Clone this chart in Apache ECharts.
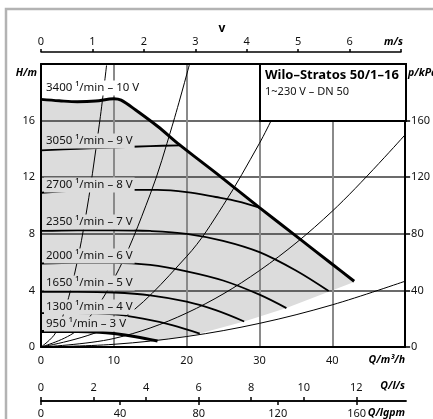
<!DOCTYPE html>
<html>
<head>
<meta charset="utf-8">
<script src="https://cdn.jsdelivr.net/npm/echarts@6/dist/echarts.min.js"></script>
<style>
  html, body { margin: 0; padding: 0; background: #fff; }
  #chart { width: 433px; height: 419px; }
</style>
</head>
<body>
<div id="chart"></div>
<script>
// Pump curves: head H [m] over flow Q [m³/h], one list of [Q, H] points per speed step
const curve10V = [[0,17.5],[2.5,17.4],[5,17.33],[7.5,17.38],[10,17.55],[11,17.45],[13,16.75],[16,15.6],[19,14.3],[22,13.1],[25,11.9],[30,9.85],[35,7.85],[40,5.85],[43,4.65]];
const curve9V  = [[0,13.9],[5,14.0],[10,14.1],[15,14.2],[19.2,14.25]];
const curve8V  = [[0,10.9],[5,11.05],[10,11.1],[16,11.1],[20,10.95],[24,10.6],[27,10.3],[30,9.85]];
const curve7V  = [[0,8.2],[5,8.25],[10,8.25],[15,8.2],[20,8.0],[25,7.5],[30,6.7],[35,5.4],[39.5,3.95]];
const curve6V  = [[0,5.9],[5,5.95],[10,5.95],[15,5.8],[20,5.35],[25,4.7],[30,3.7],[33.7,2.75]];
const curve5V  = [[0,3.9],[5,3.9],[10,3.85],[15,3.65],[20,3.2],[24,2.6],[27.9,1.8]];
const curve4V  = [[0,2.4],[5,2.4],[10,2.3],[14,2.0],[18,1.55],[21.8,0.95]];
const curve3V  = [[0,1.1],[5,1.1],[8,1.05],[10,0.95],[13,0.72],[16,0.42]];

// Lower edge of the operating range, from the end of the 3 V curve to the end of the 10 V curve
const rangeEdge = [[16,0.42],[21.8,0.95],[27.9,1.8],[33.7,2.75],[39.5,3.9],[43,4.6]];

// System characteristics through the origin
const system1 = [[0,0],[2,1.0],[4,3.9],[6,8.8],[8,15.7],[9,19.9]];
const system2 = [[0,0],[5,1.2],[10,4.8],[15,10.8],[18,15.6],[20.4,20]];
const system3 = [[0,0],[10,1.6],[20,6.4],[25,10],[30,14.4],[31.6,16]];
const system4 = [[0,0],[10,0.6],[20,2.4],[30,5.4],[40,9.6],[50,15]];
const system5 = [[0,0],[10,0.19],[20,0.74],[30,1.67],[40,2.98],[50,4.65]];

const speedLabels = ['3400 ¹/min – 10 V','3050 ¹/min – 9 V','2700 ¹/min – 8 V','2350 ¹/min – 7 V','2000 ¹/min – 6 V','1650 ¹/min – 5 V','1300 ¹/min – 4 V','950 ¹/min – 3 V'];
const headTicks = [0,4,8,12,16];
const pressureTicks = [0,40,80,120,160];
const velocityTicks = [0,1,2,3,4,5,6,7];
const velocityLabels = [0,1,2,3,4,5,6];
const litreTicks = [0,2,4,6,8,10,12];
const gallonTicks = [0,40,80,120,160];

const FONT = 'Noto Sans';
const GRAY_FILL = '#dcdcdc';

// Closed outline of the shaded operating range
const rangePolygon = curve10V
  .concat(rangeEdge.slice().reverse())
  .concat(curve3V.slice().reverse());

function line(data, width) {
  return {
    type: 'line', xAxisIndex: 0, yAxisIndex: 0, data: data,
    showSymbol: false, smooth: 0.35, z: 3, silent: true,
    lineStyle: { color: '#000', width: width }
  };
}

const chart = echarts.init(document.getElementById('chart'), null, { renderer: 'canvas' });

const hiddenY = (i) => ({ gridIndex: i, type: 'value', show: false, min: 0, max: 1 });

const labelGraphics = [];
const labelPos = [[44,88,'#fff'],[44,141,GRAY_FILL],[44,185,GRAY_FILL],[44,222,GRAY_FILL],[44,256,GRAY_FILL],[44,283,GRAY_FILL],[44,307,GRAY_FILL],[44,324,GRAY_FILL]];
speedLabels.forEach((t, i) => {
  labelGraphics.push({
    type: 'text', x: labelPos[i][0], y: labelPos[i][1], z: 60,
    style: {
      text: t, fill: '#111', font: '11.5px "' + FONT + '"',
      verticalAlign: 'middle', align: 'left',
      backgroundColor: labelPos[i][2], padding: [2, 2, 1, 2]
    }
  });
});

function axisName(text, x, y, align) {
  return {
    type: 'text', x: x, y: y, z: 60,
    style: { text: text, fill: '#000', font: 'italic bold 10.5px "' + FONT + '"', align: align || 'left', verticalAlign: 'middle' }
  };
}

const scaleLine = { onZero: false, lineStyle: { color: '#000', width: 1.5 } };

chart.setOption({
  animation: false,
  backgroundColor: '#fff',
  textStyle: { fontFamily: FONT },
  grid: [
    { left: 41, top: 64, width: 365, height: 283 },   // main diagram
    { left: 41, top: 52, width: 360, height: 10 },    // velocity scale
    { left: 41, top: 401, width: 365, height: 10 },   // l/s scale
    { left: 41, top: 391, width: 365, height: 10 }    // lgpm scale
  ],
  xAxis: [
    {
      gridIndex: 0, type: 'value', min: 0, max: 50, interval: 10, position: 'bottom',
      axisLine: { onZero: false, lineStyle: { color: '#000', width: 2 } },
      axisTick: { show: false },
      axisLabel: { color: '#111', fontSize: 11, margin: 8, showMaxLabel: false },
      splitLine: { show: true, lineStyle: { color: '#8a8a8a', width: 2 } }
    },
    {
      gridIndex: 0, type: 'value', min: 0, max: 50, position: 'top',
      axisLine: { onZero: false, lineStyle: { color: '#000', width: 2 } },
      axisTick: { show: false }, axisLabel: { show: false }, splitLine: { show: false }
    },
    {
      gridIndex: 1, type: 'value', min: 0, max: 7, interval: 1, position: 'top',
      axisLine: scaleLine,
      axisTick: { length: 3, lineStyle: { color: '#000', width: 1.5 }, customValues: velocityTicks },
      axisLabel: { color: '#111', fontSize: 11, margin: 5, customValues: velocityLabels },
      splitLine: { show: false }
    },
    {
      gridIndex: 2, type: 'value', min: 0, max: 13.89, interval: 2, position: 'top',
      axisLine: scaleLine,
      axisTick: { length: 4, lineStyle: { color: '#000', width: 1.5 }, customValues: litreTicks },
      axisLabel: { color: '#111', fontSize: 11, margin: 8, customValues: litreTicks },
      splitLine: { show: false }
    },
    {
      gridIndex: 3, type: 'value', min: 0, max: 185, interval: 40, position: 'bottom',
      axisLine: scaleLine,
      axisTick: { length: 4, lineStyle: { color: '#000', width: 1.5 }, customValues: gallonTicks },
      axisLabel: { color: '#111', fontSize: 11, margin: 7, customValues: gallonTicks },
      splitLine: { show: false }
    }
  ],
  yAxis: [
    {
      gridIndex: 0, type: 'value', min: 0, max: 20, interval: 4, position: 'left',
      axisLine: { show: true, onZero: false, lineStyle: { color: '#000', width: 2 } },
      axisTick: { show: false },
      axisLabel: { color: '#111', fontSize: 11, margin: 6, customValues: headTicks },
      splitLine: { show: true, lineStyle: { color: '#3a3a3a', width: 1.5 } }
    },
    {
      gridIndex: 0, type: 'value', min: 0, max: 200, interval: 40, position: 'right',
      axisLine: { show: true, onZero: false, lineStyle: { color: '#000', width: 2 } },
      axisTick: { show: true, length: 5, lineStyle: { color: '#000', width: 1.5 }, customValues: pressureTicks },
      axisLabel: { color: '#111', fontSize: 11, margin: 6, customValues: pressureTicks },
      splitLine: { show: false }
    },
    hiddenY(1), hiddenY(2), hiddenY(3)
  ],
  graphic: [
    { type: 'rect', z: -10, shape: { x: 6, y: 9, width: 460, height: 460 }, style: { fill: 'none', stroke: '#b3b3b3', lineWidth: 2.5 } },
    { type: 'rect', z: 50, shape: { x: 260, y: 64, width: 146, height: 57 }, style: { fill: '#fff', stroke: '#000', lineWidth: 2 } },
    { type: 'text', z: 55, x: 265, y: 75, style: { text: 'Wilo–Stratos 50/1–16', fill: '#000', font: 'bold 13px "' + FONT + '"', verticalAlign: 'middle' } },
    { type: 'text', z: 55, x: 265, y: 92, style: { text: '1~230 V – DN 50', fill: '#111', font: '11px "' + FONT + '"', verticalAlign: 'middle' } },
    axisName('H/m', 37, 73, 'right'),
    axisName('p/kPa', 408, 73, 'left'),
    axisName('Q/m³/h', 405, 360, 'right'),
    axisName('Q/l/s', 405, 386, 'right'),
    axisName('Q/lgpm', 405, 413, 'right'),
    axisName('m/s', 403, 42, 'right'),
    { type: 'text', z: 55, x: 222, y: 29, style: { text: 'v', fill: '#000', font: 'bold 12px "' + FONT + '"', align: 'center', verticalAlign: 'middle' } }
  ].concat(labelGraphics),
  series: [
    {
      type: 'custom', xAxisIndex: 0, yAxisIndex: 0, z: -1, silent: true,
      data: [[0, 0]],
      renderItem: function (params, api) {
        return {
          type: 'polygon',
          shape: { points: rangePolygon.map(p => api.coord(p)) },
          style: { fill: GRAY_FILL }
        };
      }
    },
    line(system1, 1), line(system2, 1), line(system3, 1), line(system4, 1), line(system5, 1),
    line(curve9V, 1.8), line(curve8V, 1.8), line(curve7V, 1.8), line(curve6V, 1.8),
    line(curve5V, 1.8), line(curve4V, 1.8),
    line(curve10V, 3), line(curve3V, 3)
  ]
});
</script>
</body>
</html>
